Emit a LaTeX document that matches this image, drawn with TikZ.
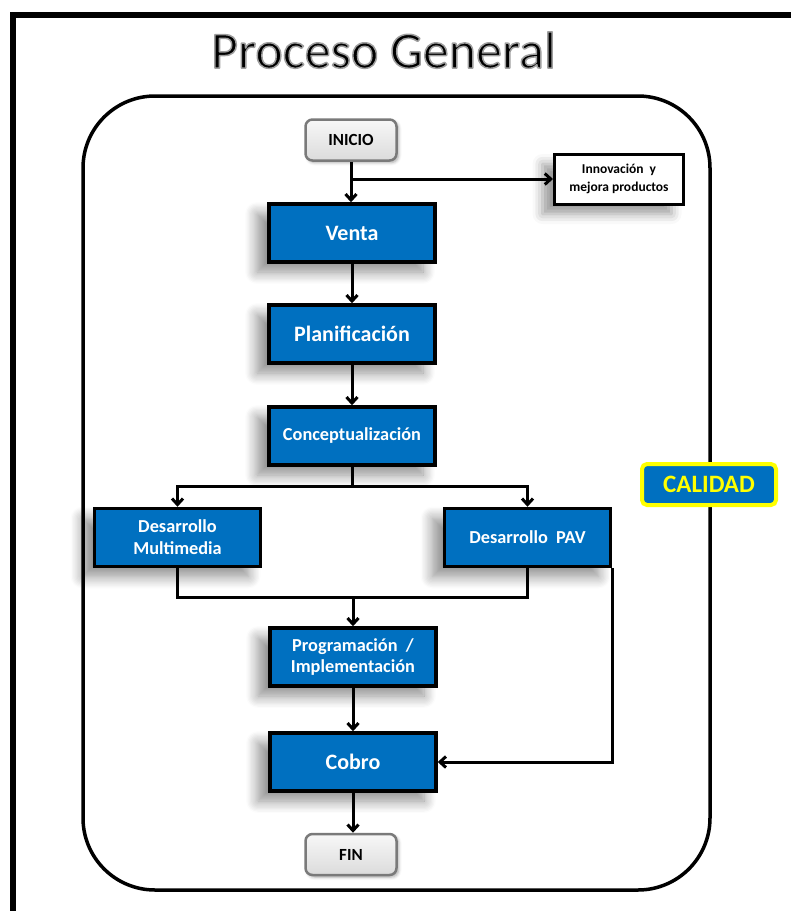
\documentclass[tikz,border=0pt]{standalone}
\usepackage{fontspec}
\setmainfont{Carlito}
\usetikzlibrary{arrows.meta,calc,shadows.blur}

\definecolor{boxblue}{HTML}{0070C0}
\definecolor{calyellow}{HTML}{FFFF00}
\definecolor{startgray}{HTML}{7A7A7A}

% outlined glyphs: fill with the current colour, stroke with a light grey rim
\newcommand{\rimtext}[1]{%
  \special{pdf:literal direct 2 Tr 0.62 0.62 0.62 RG 1.5 w 1 j}#1%
  \special{pdf:literal direct 0 Tr}}

\tikzset{
  fs/.style={font=\fontsize{#1}{\dimexpr #1pt*6/5\relax}\selectfont\bfseries},
  soft/.style={blur shadow={shadow xshift=-12pt,shadow yshift=-10pt,
      shadow blur radius=12pt,shadow blur steps=10,shadow opacity=45}},
  procbox/.style={draw=black,line width=3.5pt,fill=boxblue,text=white,
      minimum width=166pt,minimum height=58pt,inner sep=0pt,align=center,soft},
  endbox/.style={draw=startgray,line width=2.5pt,rounded corners=7pt,
      top color=gray!6,bottom color=gray!28,text=black,
      minimum width=91pt,minimum height=41pt,inner sep=0pt,fs=17,
      blur shadow={shadow xshift=2pt,shadow yshift=-2pt,shadow blur radius=3pt,shadow opacity=35}},
  notebox/.style={draw=black,line width=3pt,fill=white,text=black,
      minimum width=129pt,minimum height=50pt,inner sep=0pt,align=center,fs=13.5,
      blur shadow={shadow xshift=-12pt,shadow yshift=-10pt,shadow blur radius=10pt,shadow opacity=40}},
  qualbox/.style={draw=calyellow,line width=4pt,rounded corners=5pt,fill=boxblue,
      text=calyellow,minimum width=134pt,minimum height=41pt,inner sep=0pt,fs=25},
  link/.style={draw=black,line width=3pt},
  flow/.style={link,-{Straight Barb[length=6pt,width=11pt,line width=3pt]}},
}

\begin{document}
\begin{tikzpicture}[x=1pt,y=-1pt]
  \useasboundingbox (0,0) rectangle (791,911);

  % outer page frame (only top and left edges fall inside the sheet)
  \draw[line width=6.5pt] (13,911) -- (13,15) -- (795,15);

  % title
  \node[anchor=base,text=black,font=\fontsize{52}{60}\selectfont] (title)
    at (383.5,68) {\rimtext{Proceso General}};

  % rounded process boundary
  \draw[line width=3.5pt,rounded corners=72pt] (83,96) rectangle (710,890);

  % process nodes
  \node[endbox]  (inicio)  at (351,140)   {INICIO};
  \node[notebox] (innov)   at (619,179) {Innovación\ \ y\\[1.5pt]mejora productos};
  \node[procbox,fs=22]   (venta)   at (352,233)   {Venta};
  \node[procbox,fs=22]   (plan)    at (352,334)   {Planificación};
  \node[procbox,fs=18.3] (concept) at (352,436)   {Conceptualización};
  \node[procbox,fs=18.3] (dmult)   at (177.5,537.5) {Desarrollo\\[0pt]Multimedia};
  \node[procbox,fs=18.3] (dpav)    at (527.5,537.5) {Desarrollo\ \ PAV};
  \node[procbox,fs=18.3] (prog)    at (353,657)   {Programación\ \ /\\[0pt]Implementación};
  \node[procbox,fs=22]   (cobro)   at (353,762)   {Cobro};
  \node[endbox]  (fin)     at (351,854.5) {FIN};
  \node[qualbox] (calidad) at (709,484.5) {CALIDAD};

  % helper points for the split and the merge
  \coordinate (split) at ($(concept.south)!0.5!(concept.south |- dmult.north)$);
  \coordinate (merge) at ($(prog.north |- dmult.south)!0.5!(prog.north)$);

  % connectors
  \draw[flow] (inicio.south) -- (inicio.south |- venta.north);
  \draw[flow] (inicio.south |- innov.west) -- (innov.west);
  \draw[flow] (venta.south) -- (plan.north);
  \draw[flow] (plan.south) -- (concept.north);
  \draw[link] (concept.south) -- (split);
  \draw[flow] (split) -| (dmult.north);
  \draw[flow] (split) -| (dpav.north);
  \draw[link] (dmult.south) |- (merge) -| (dpav.south);
  \draw[flow] (merge) -- (prog.north);
  \draw[flow] (prog.south) -- (cobro.north);
  \draw[flow] ([xshift=-0.2pt]dpav.south east) |- (cobro.east);
  \draw[flow] (cobro.south) -- (cobro.south |- fin.north);
\end{tikzpicture}
\end{document}
